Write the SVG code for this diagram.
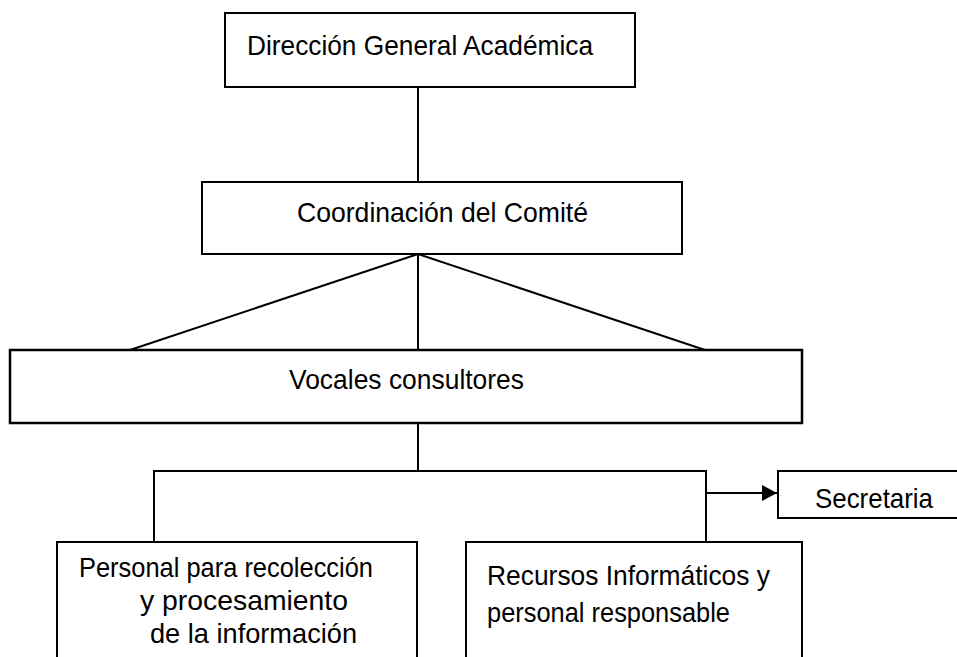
<svg xmlns="http://www.w3.org/2000/svg" width="957" height="657" viewBox="0 0 957 657">
<style>
.box{fill:#fff;stroke:#000;stroke-width:2}
.ln{fill:none;stroke:#000;stroke-width:2}
.t{font-family:"Liberation Sans","Open Sans",sans-serif;font-size:28px;fill:#000}
</style>
<defs>
<marker id="arr" markerUnits="userSpaceOnUse" markerWidth="16" markerHeight="18" refX="15" refY="9" orient="auto">
<path d="M0,1 L15,9 L0,17 Z" fill="#000"/>
</marker>
</defs>
<rect width="957" height="657" fill="#fff"/>
<g id="connectors">
<line class="ln" x1="418" y1="87" x2="418" y2="182"/>
<line class="ln" x1="418" y1="254" x2="130" y2="350"/>
<line class="ln" x1="418" y1="254" x2="418" y2="350"/>
<line class="ln" x1="418" y1="254" x2="705" y2="350"/>
<line class="ln" x1="418" y1="423" x2="418" y2="471"/>
<polyline class="ln" points="154,542 154,471 706,471 706,542"/>
<line class="ln" x1="706" y1="493" x2="777" y2="493" marker-end="url(#arr)"/>
</g>
<g id="n1">
<rect class="box" x="225" y="13" width="410" height="74"/>
<text class="t" x="247" y="55" textLength="346" lengthAdjust="spacingAndGlyphs">Dirección General Académica</text>
</g>
<g id="n2">
<rect class="box" x="202" y="182" width="480" height="72"/>
<text class="t" x="297" y="222" textLength="291" lengthAdjust="spacingAndGlyphs">Coordinación del Comité</text>
</g>
<g id="n3">
<rect class="box" x="10" y="350" width="792" height="73" style="stroke-width:2.5"/>
<text class="t" x="289" y="389" textLength="235" lengthAdjust="spacingAndGlyphs">Vocales consultores</text>
</g>
<g id="n4">
<rect class="box" x="778" y="471" width="200" height="47"/>
<text class="t" x="815" y="508" textLength="118" lengthAdjust="spacingAndGlyphs">Secretaria</text>
</g>
<g id="n5">
<rect class="box" x="57" y="542" width="360" height="130"/>
<text class="t" x="79" y="577" textLength="294" lengthAdjust="spacingAndGlyphs">Personal para recolección</text>
<text class="t" x="140" y="610" textLength="208" lengthAdjust="spacingAndGlyphs">y procesamiento</text>
<text class="t" x="150" y="643" textLength="207" lengthAdjust="spacingAndGlyphs">de la información</text>
</g>
<g id="n6">
<rect class="box" x="466" y="542" width="336" height="130"/>
<text class="t" x="487" y="585" textLength="283" lengthAdjust="spacingAndGlyphs">Recursos Informáticos y</text>
<text class="t" x="487" y="622" textLength="243" lengthAdjust="spacingAndGlyphs">personal responsable</text>
</g>
</svg>
